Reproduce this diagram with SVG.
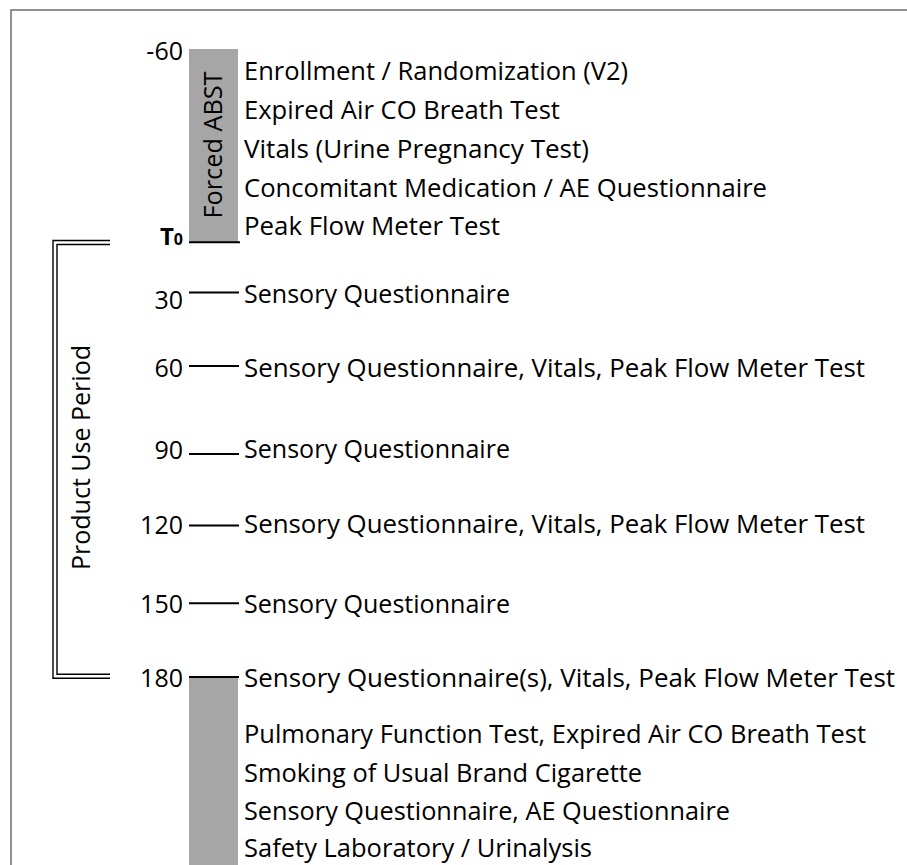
<svg xmlns="http://www.w3.org/2000/svg" width="907" height="865" viewBox="0 0 907 865">
<style>
.t{font-family:"Open Sans","Noto Sans","Liberation Sans",sans-serif;font-size:25px;fill:#000}
.n{font-family:"Open Sans","Noto Sans","Liberation Sans",sans-serif;font-size:25px;fill:#000;text-anchor:end}
.bar{fill:#a6a6a6}
.tick{stroke:#000;stroke-width:2;fill:none}
.br{stroke:#000;stroke-width:1.4;fill:none}
</style>
<rect width="907" height="865" fill="#fff"/>
<path d="M11,865 V10 H907" fill="none" stroke="#6e6e6e" stroke-width="1.5"/>

<g id="forced-abst">
<rect class="bar" x="189" y="49" width="49" height="193"/>
<text class="t" transform="translate(222,145) rotate(-90)" text-anchor="middle" textLength="147" lengthAdjust="spacingAndGlyphs">Forced ABST</text>
<text class="n" x="183" y="60">-60</text>
<text x="183" y="245" text-anchor="end" font-family="Open Sans, Noto Sans, Liberation Sans, sans-serif" font-weight="bold" font-size="24">T<tspan font-size="16">0</tspan></text>
<text class="t" x="244" y="80" textLength="384" lengthAdjust="spacingAndGlyphs">Enrollment / Randomization (V2)</text>
<text class="t" x="244" y="119" textLength="316" lengthAdjust="spacingAndGlyphs">Expired Air CO Breath Test</text>
<text class="t" x="244" y="158" textLength="345" lengthAdjust="spacingAndGlyphs">Vitals (Urine Pregnancy Test)</text>
<text class="t" x="244" y="197" textLength="523" lengthAdjust="spacingAndGlyphs">Concomitant Medication / AE Questionnaire</text>
<text class="t" x="244" y="235" textLength="256" lengthAdjust="spacingAndGlyphs">Peak Flow Meter Test</text>
</g>

<g id="product-use-period">
<text class="t" transform="translate(90,457.5) rotate(-90)" text-anchor="middle" textLength="225" lengthAdjust="spacingAndGlyphs">Product Use Period</text>
</g>

<g id="t30">
<text class="n" x="183" y="309">30</text>
<text class="t" x="244" y="303" textLength="266" lengthAdjust="spacingAndGlyphs">Sensory Questionnaire</text>
</g>
<g id="t60">
<text class="n" x="183" y="377">60</text>
<text class="t" x="244" y="377" textLength="621" lengthAdjust="spacingAndGlyphs">Sensory Questionnaire, Vitals, Peak Flow Meter Test</text>
</g>
<g id="t90">
<text class="n" x="183" y="459">90</text>
<text class="t" x="244" y="458" textLength="266" lengthAdjust="spacingAndGlyphs">Sensory Questionnaire</text>
</g>
<g id="t120">
<text class="n" x="183" y="534">120</text>
<text class="t" x="244" y="533" textLength="621" lengthAdjust="spacingAndGlyphs">Sensory Questionnaire, Vitals, Peak Flow Meter Test</text>
</g>
<g id="t150">
<text class="n" x="183" y="613">150</text>
<text class="t" x="244" y="613" textLength="266" lengthAdjust="spacingAndGlyphs">Sensory Questionnaire</text>
</g>
<g id="t180">
<rect class="bar" x="189" y="677" width="49" height="188"/>
<text class="n" x="183" y="687">180</text>
<text class="t" x="244" y="687" textLength="651" lengthAdjust="spacingAndGlyphs">Sensory Questionnaire(s), Vitals, Peak Flow Meter Test</text>
<text class="t" x="244" y="743" textLength="622" lengthAdjust="spacingAndGlyphs">Pulmonary Function Test, Expired Air CO Breath Test</text>
<text class="t" x="244" y="782" textLength="398" lengthAdjust="spacingAndGlyphs">Smoking of Usual Brand Cigarette</text>
<text class="t" x="244" y="820" textLength="486" lengthAdjust="spacingAndGlyphs">Sensory Questionnaire, AE Questionnaire</text>
<text class="t" x="244" y="857" textLength="348" lengthAdjust="spacingAndGlyphs">Safety Laboratory / Urinalysis</text>
</g>

<g id="connectors">
<path class="br" d="M110,240.5 H53 V678.3 H110"/>
<path class="br" d="M110,244.5 H57 V674.3 H110"/>
<line class="tick" x1="189" y1="242.3" x2="240" y2="242.3"/>
<line class="tick" x1="189" y1="292.5" x2="239" y2="292.5"/>
<line class="tick" x1="189" y1="366" x2="239" y2="366"/>
<line class="tick" x1="189" y1="454" x2="239" y2="454"/>
<line class="tick" x1="189" y1="525.5" x2="239" y2="525.5"/>
<line class="tick" x1="189" y1="603.3" x2="239" y2="603.3"/>
<line class="tick" x1="189" y1="677" x2="239" y2="677"/>
</g>
</svg>
